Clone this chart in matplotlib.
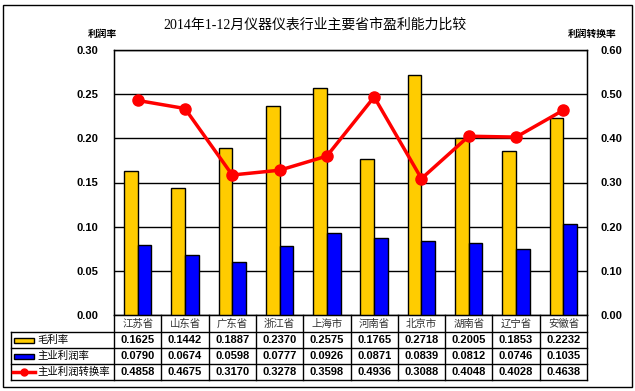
import matplotlib.pyplot as plt
from matplotlib.patches import Rectangle
from matplotlib.lines import Line2D

plt.rcParams['font.family'] = ['Liberation Sans', 'Noto Sans CJK SC']

categories = ["江苏省", "山东省", "广东省", "浙江省", "上海市", "河南省", "北京市", "湖南省", "辽宁省", "安徽省"]
gross_margin = [0.1625, 0.1442, 0.1887, 0.2370, 0.2575, 0.1765, 0.2718, 0.2005, 0.1853, 0.2232]
main_margin = [0.0790, 0.0674, 0.0598, 0.0777, 0.0926, 0.0871, 0.0839, 0.0812, 0.0746, 0.1035]
conversion = [0.4858, 0.4675, 0.3170, 0.3278, 0.3598, 0.4936, 0.3088, 0.4048, 0.4028, 0.4638]
series_names = ["毛利率", "主业利润率", "主业利润转换率"]

W, H = 635, 391
fig = plt.figure(figsize=(W / 100, H / 100), dpi=100)

# outer frame
fig.patches.append(Rectangle((3 / W, 1 - 387 / H), 629 / W, 382 / H, transform=fig.transFigure,
                             fill=False, edgecolor="black", linewidth=1))

L, R, T, B = 114, 587, 50, 315
ax = fig.add_axes([L / W, 1 - B / H, (R - L) / W, (B - T) / H])
x = list(range(len(categories)))
bw = 0.29
ax.bar([i - bw / 2 for i in x], gross_margin, bw, color="#FFCC00", edgecolor="black", linewidth=1, zorder=3)
ax.bar([i + bw / 2 for i in x], main_margin, bw, color="#0000FF", edgecolor="black", linewidth=1, zorder=3)
ax.set_xlim(-0.5, len(categories) - 0.5)
ax.set_ylim(0, 0.30)
ax.set_yticks([0, 0.05, 0.10, 0.15, 0.20, 0.25, 0.30])
ax.set_yticklabels(["%.2f" % v for v in ax.get_yticks()], fontsize=8, fontweight="bold")
ax.set_xticks([])
ax.tick_params(axis="y", length=0, pad=11)
ax.grid(axis="y", color="black", linewidth=1, zorder=0)
for s in ax.spines.values():
    s.set_linewidth(1)

ax2 = ax.twinx()
ax2.plot(x, conversion, color="#FF0000", linewidth=2.5, marker="o", markersize=8, zorder=5)
ax2.set_ylim(0, 0.60)
ax2.set_yticks([0, 0.1, 0.2, 0.3, 0.4, 0.5, 0.6])
ax2.set_yticklabels(["%.2f" % v for v in ax2.get_yticks()], fontsize=8, fontweight="bold")
ax2.tick_params(axis="y", length=0, pad=10)

fig.text(315 / W, 1 - 25 / H, "2014年1-12月仪器仪表行业主要省市盈利能力比较",
         family=['Liberation Serif', 'Noto Sans CJK SC'], fontsize=10, ha="center", va="center")
fig.text(102 / W, 1 - 34 / H, "利润率", fontsize=7, fontweight="bold", ha="center", va="center")
fig.text(592 / W, 1 - 34 / H, "利润转换率", fontsize=7, fontweight="bold", ha="center", va="center")

# data table below the chart
tb = fig.add_axes([0, 0, 1, 1], facecolor="none")
tb.set_xlim(0, W)
tb.set_ylim(H, 0)
tb.axis("off")
rows_y = [315, 332, 348, 364, 380]
col_w = (R - L) / len(categories)
col_x = [L + k * col_w for k in range(len(categories) + 1)]
for yy in rows_y[1:]:
    tb.plot([11, R], [yy, yy], color="black", lw=1)
tb.plot([11, 11], [rows_y[1], rows_y[-1]], color="black", lw=1)
for xx in col_x:
    tb.plot([xx, xx], [rows_y[0], rows_y[-1]], color="black", lw=1)

for i, c in enumerate(categories):
    cx = col_x[i] + col_w / 2
    tb.text(cx, (rows_y[0] + rows_y[1]) / 2, c, fontsize=7.5, color="#333333", ha="center", va="center")
    for r, vals in enumerate([gross_margin, main_margin, conversion]):
        tb.text(cx, (rows_y[r + 1] + rows_y[r + 2]) / 2, "%.4f" % vals[i], fontsize=8,
                fontweight="bold", ha="center", va="center")

for r, name in enumerate(series_names):
    cy = (rows_y[r + 1] + rows_y[r + 2]) / 2
    if r < 2:
        tb.add_patch(Rectangle((14, cy - 2.5), 20, 5, facecolor=["#FFCC00", "#0000FF"][r],
                               edgecolor="black", lw=1))
    else:
        tb.add_line(Line2D([13, 35], [cy, cy], color="#FF0000", lw=2.5))
        tb.plot([24], [cy], "o", color="#FF0000", markersize=5)
    tb.text(37, cy, name, fontsize=7.5, ha="left", va="center")

fig.savefig("out.png", dpi=100)
